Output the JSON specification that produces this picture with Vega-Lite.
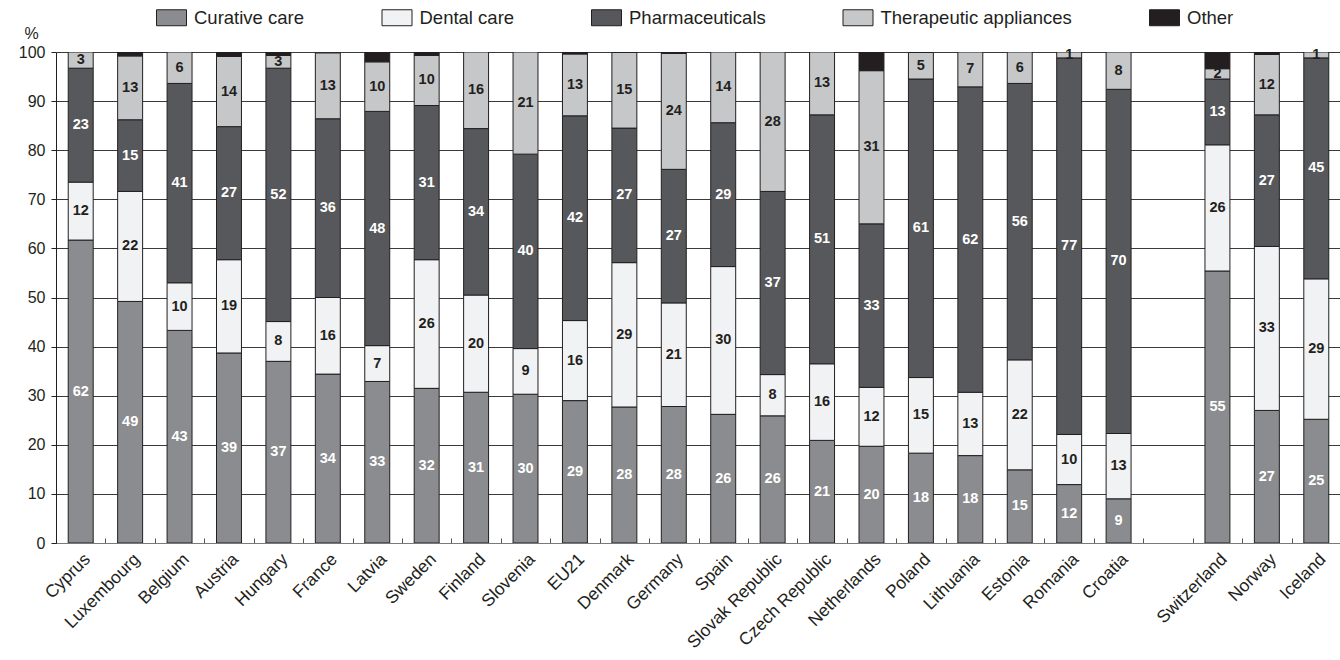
{
  "$schema": "https://vega.github.io/schema/vega-lite/v6.json",
  "width": 1285,
  "height": 491,
  "autosize": "none",
  "padding": {"left": 56, "top": 52, "right": 0, "bottom": 117},
  "background": "white",
  "config": {
    "font": "Liberation Sans",
    "view": {"stroke": null},
    "axis": {"labelColor": "#231f20", "titleColor": "#231f20"}
  },
  "data": {
    "values": [
      {"country": "Cyprus", "item": "Curative care", "share": 61.7},
      {"country": "Cyprus", "item": "Dental care", "share": 11.8},
      {"country": "Cyprus", "item": "Pharmaceuticals", "share": 23.2},
      {"country": "Cyprus", "item": "Therapeutic appliances", "share": 3.3},
      {"country": "Luxembourg", "item": "Curative care", "share": 49.2},
      {"country": "Luxembourg", "item": "Dental care", "share": 22.4},
      {"country": "Luxembourg", "item": "Pharmaceuticals", "share": 14.6},
      {"country": "Luxembourg", "item": "Therapeutic appliances", "share": 13.0},
      {"country": "Luxembourg", "item": "Other", "share": 0.8},
      {"country": "Belgium", "item": "Curative care", "share": 43.3},
      {"country": "Belgium", "item": "Dental care", "share": 9.7},
      {"country": "Belgium", "item": "Pharmaceuticals", "share": 40.6},
      {"country": "Belgium", "item": "Therapeutic appliances", "share": 6.4},
      {"country": "Austria", "item": "Curative care", "share": 38.7},
      {"country": "Austria", "item": "Dental care", "share": 19.0},
      {"country": "Austria", "item": "Pharmaceuticals", "share": 27.1},
      {"country": "Austria", "item": "Therapeutic appliances", "share": 14.3},
      {"country": "Austria", "item": "Other", "share": 0.9},
      {"country": "Hungary", "item": "Curative care", "share": 37.0},
      {"country": "Hungary", "item": "Dental care", "share": 8.1},
      {"country": "Hungary", "item": "Pharmaceuticals", "share": 51.6},
      {"country": "Hungary", "item": "Therapeutic appliances", "share": 2.6},
      {"country": "Hungary", "item": "Other", "share": 0.7},
      {"country": "France", "item": "Curative care", "share": 34.4},
      {"country": "France", "item": "Dental care", "share": 15.6},
      {"country": "France", "item": "Pharmaceuticals", "share": 36.4},
      {"country": "France", "item": "Therapeutic appliances", "share": 13.4},
      {"country": "Latvia", "item": "Curative care", "share": 32.9},
      {"country": "Latvia", "item": "Dental care", "share": 7.3},
      {"country": "Latvia", "item": "Pharmaceuticals", "share": 47.7},
      {"country": "Latvia", "item": "Therapeutic appliances", "share": 10.1},
      {"country": "Latvia", "item": "Other", "share": 2.0},
      {"country": "Sweden", "item": "Curative care", "share": 31.5},
      {"country": "Sweden", "item": "Dental care", "share": 26.2},
      {"country": "Sweden", "item": "Pharmaceuticals", "share": 31.4},
      {"country": "Sweden", "item": "Therapeutic appliances", "share": 10.2},
      {"country": "Sweden", "item": "Other", "share": 0.7},
      {"country": "Finland", "item": "Curative care", "share": 30.7},
      {"country": "Finland", "item": "Dental care", "share": 19.8},
      {"country": "Finland", "item": "Pharmaceuticals", "share": 33.9},
      {"country": "Finland", "item": "Therapeutic appliances", "share": 15.6},
      {"country": "Slovenia", "item": "Curative care", "share": 30.3},
      {"country": "Slovenia", "item": "Dental care", "share": 9.3},
      {"country": "Slovenia", "item": "Pharmaceuticals", "share": 39.6},
      {"country": "Slovenia", "item": "Therapeutic appliances", "share": 20.8},
      {"country": "EU21", "item": "Curative care", "share": 29.0},
      {"country": "EU21", "item": "Dental care", "share": 16.3},
      {"country": "EU21", "item": "Pharmaceuticals", "share": 41.7},
      {"country": "EU21", "item": "Therapeutic appliances", "share": 12.6},
      {"country": "EU21", "item": "Other", "share": 0.4},
      {"country": "Denmark", "item": "Curative care", "share": 27.7},
      {"country": "Denmark", "item": "Dental care", "share": 29.4},
      {"country": "Denmark", "item": "Pharmaceuticals", "share": 27.4},
      {"country": "Denmark", "item": "Therapeutic appliances", "share": 15.4},
      {"country": "Germany", "item": "Curative care", "share": 27.8},
      {"country": "Germany", "item": "Dental care", "share": 21.1},
      {"country": "Germany", "item": "Pharmaceuticals", "share": 27.2},
      {"country": "Germany", "item": "Therapeutic appliances", "share": 23.6},
      {"country": "Germany", "item": "Other", "share": 0.3},
      {"country": "Spain", "item": "Curative care", "share": 26.2},
      {"country": "Spain", "item": "Dental care", "share": 30.1},
      {"country": "Spain", "item": "Pharmaceuticals", "share": 29.3},
      {"country": "Spain", "item": "Therapeutic appliances", "share": 14.4},
      {"country": "Slovak Republic", "item": "Curative care", "share": 25.9},
      {"country": "Slovak Republic", "item": "Dental care", "share": 8.4},
      {"country": "Slovak Republic", "item": "Pharmaceuticals", "share": 37.3},
      {"country": "Slovak Republic", "item": "Therapeutic appliances", "share": 28.4},
      {"country": "Czech Republic", "item": "Curative care", "share": 20.9},
      {"country": "Czech Republic", "item": "Dental care", "share": 15.6},
      {"country": "Czech Republic", "item": "Pharmaceuticals", "share": 50.7},
      {"country": "Czech Republic", "item": "Therapeutic appliances", "share": 12.8},
      {"country": "Netherlands", "item": "Curative care", "share": 19.7},
      {"country": "Netherlands", "item": "Dental care", "share": 12.0},
      {"country": "Netherlands", "item": "Pharmaceuticals", "share": 33.3},
      {"country": "Netherlands", "item": "Therapeutic appliances", "share": 31.2},
      {"country": "Netherlands", "item": "Other", "share": 3.8},
      {"country": "Poland", "item": "Curative care", "share": 18.3},
      {"country": "Poland", "item": "Dental care", "share": 15.4},
      {"country": "Poland", "item": "Pharmaceuticals", "share": 60.8},
      {"country": "Poland", "item": "Therapeutic appliances", "share": 5.4},
      {"country": "Lithuania", "item": "Curative care", "share": 17.8},
      {"country": "Lithuania", "item": "Dental care", "share": 12.9},
      {"country": "Lithuania", "item": "Pharmaceuticals", "share": 62.2},
      {"country": "Lithuania", "item": "Therapeutic appliances", "share": 7.1},
      {"country": "Estonia", "item": "Curative care", "share": 14.9},
      {"country": "Estonia", "item": "Dental care", "share": 22.4},
      {"country": "Estonia", "item": "Pharmaceuticals", "share": 56.3},
      {"country": "Estonia", "item": "Therapeutic appliances", "share": 6.4},
      {"country": "Romania", "item": "Curative care", "share": 11.9},
      {"country": "Romania", "item": "Dental care", "share": 10.2},
      {"country": "Romania", "item": "Pharmaceuticals", "share": 76.7},
      {"country": "Romania", "item": "Therapeutic appliances", "share": 1.2},
      {"country": "Croatia", "item": "Curative care", "share": 9.0},
      {"country": "Croatia", "item": "Dental care", "share": 13.3},
      {"country": "Croatia", "item": "Pharmaceuticals", "share": 70.1},
      {"country": "Croatia", "item": "Therapeutic appliances", "share": 7.6},
      {"country": "Switzerland", "item": "Curative care", "share": 55.4},
      {"country": "Switzerland", "item": "Dental care", "share": 25.7},
      {"country": "Switzerland", "item": "Pharmaceuticals", "share": 13.4},
      {"country": "Switzerland", "item": "Therapeutic appliances", "share": 2.1},
      {"country": "Switzerland", "item": "Other", "share": 3.4},
      {"country": "Norway", "item": "Curative care", "share": 27.0},
      {"country": "Norway", "item": "Dental care", "share": 33.4},
      {"country": "Norway", "item": "Pharmaceuticals", "share": 26.8},
      {"country": "Norway", "item": "Therapeutic appliances", "share": 12.3},
      {"country": "Norway", "item": "Other", "share": 0.5},
      {"country": "Iceland", "item": "Curative care", "share": 25.2},
      {"country": "Iceland", "item": "Dental care", "share": 28.6},
      {"country": "Iceland", "item": "Pharmaceuticals", "share": 45.0},
      {"country": "Iceland", "item": "Therapeutic appliances", "share": 1.2}
    ]
  },
  "transform": [
    {"calculate": "indexof(['Curative care', 'Dental care', 'Pharmaceuticals', 'Therapeutic appliances', 'Other'], datum.item)", "as": "rank"},
    {"stack": "share", "groupby": ["country"], "sort": [{"field": "rank", "order": "ascending"}], "as": ["lo", "hi"]},
    {"calculate": "(datum.lo + datum.hi) / 2", "as": "mid"}
  ],
  "encoding": {
    "x": {
      "field": "country",
      "type": "nominal",
      "scale": {
        "domain": ["Cyprus", "Luxembourg", "Belgium", "Austria", "Hungary", "France", "Latvia", "Sweden", "Finland", "Slovenia", "EU21", "Denmark", "Germany", "Spain", "Slovak Republic", "Czech Republic", "Netherlands", "Poland", "Lithuania", "Estonia", "Romania", "Croatia", " ", "Switzerland", "Norway", "Iceland"],
        "paddingInner": 0.495,
        "paddingOuter": 0.2475
      },
      "axis": {
        "title": null,
        "labelAngle": -45,
        "labelFontSize": 17.5,
        "labelAlign": "right",
        "labelBaseline": "top",
        "domainColor": "#7a7a7a",
        "domainWidth": 1.2,
        "tickColor": "#555555",
        "tickSize": -5,
        "tickOffset": -24.7,
        "labelOffset": 24.7,
        "labelPadding": 12,
        "grid": false
      }
    }
  },
  "layer": [
    {
      "mark": {"type": "bar", "stroke": "#231f20", "strokeWidth": 1, "clip": true},
      "encoding": {
        "y": {
          "field": "lo",
          "type": "quantitative",
          "scale": {"domain": [0, 100], "nice": false},
          "axis": {
            "title": "%",
            "titleAngle": 0,
            "titleFontSize": 16,
            "titleFontWeight": "normal",
            "titleAlign": "center",
            "titleBaseline": "middle",
            "titleX": -25,
            "titleY": -19,
            "values": [0, 10, 20, 30, 40, 50, 60, 70, 80, 90, 100],
            "labelFontSize": 16,
            "labelPadding": 6,
            "tickSize": 5,
            "tickColor": "#231f20",
            "domainColor": "#231f20",
            "gridColor": "#3a3a3a",
            "gridWidth": 1
          }
        },
        "y2": {"field": "hi"},
        "color": {
          "field": "item",
          "type": "nominal",
          "scale": {
            "domain": ["Curative care", "Dental care", "Pharmaceuticals", "Therapeutic appliances", "Other"],
            "range": ["#8b8c8f", "#f1f2f3", "#57585b", "#c6c7c9", "#231f20"]
          },
          "legend": {
            "title": null,
            "orient": "none",
            "legendX": 100,
            "legendY": -50,
            "direction": "horizontal",
            "columns": 5,
            "columnPadding": 74.5,
            "symbolType": "M-1,-0.533H1V0.533H-1Z",
            "symbolSize": 900,
            "symbolStrokeColor": "#231f20",
            "symbolStrokeWidth": 1,
            "symbolOpacity": 1,
            "labelFontSize": 18.5,
            "labelLimit": 400,
            "labelColor": "#231f20",
            "labelOffset": 7
          }
        }
      }
    },
    {
      "transform": [{"filter": "datum.item !== 'Other'"}],
      "mark": {"type": "text", "fontWeight": "bold", "fontSize": 14.5, "align": "center", "baseline": "middle"},
      "encoding": {
        "y": {"field": "mid", "type": "quantitative"},
        "text": {"field": "share", "type": "quantitative", "format": ".0f"},
        "color": {
          "condition": {"test": "datum.item === 'Curative care' || datum.item === 'Pharmaceuticals'", "value": "#ffffff"},
          "value": "#231f20"
        }
      }
    }
  ]
}
